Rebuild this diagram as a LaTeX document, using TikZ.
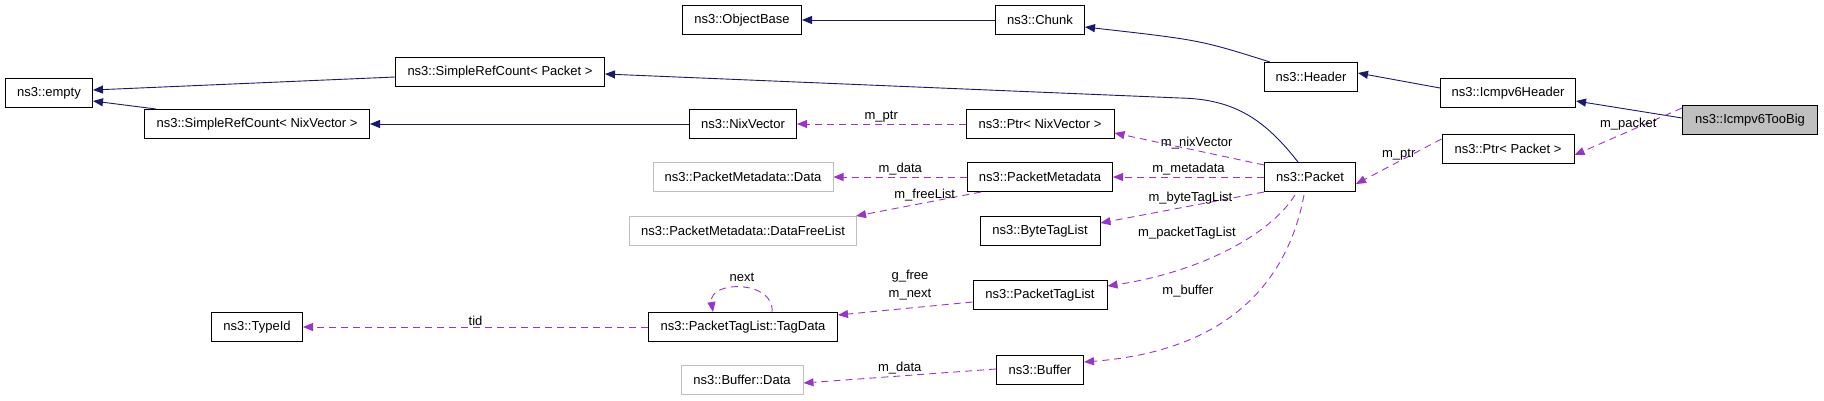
\documentclass[tikz,border=0pt]{standalone}
\usepackage{fontspec}
\setmainfont{Liberation Sans}
\usepackage{tikz}
\usetikzlibrary{arrows.meta,calc}

\definecolor{inhblue}{HTML}{191970}
\definecolor{usepurple}{HTML}{9A32CD}
\definecolor{boxgrey}{HTML}{BFBFBF}

\tikzset{
	cls/.style={draw=black, line width=1pt, minimum height=29pt, inner sep=0pt, font=\fontsize{13pt}{15pt}\selectfont},
	gcls/.style={cls, draw=boxgrey},
	inh/.style={draw=inhblue, line width=0.9pt, -{Triangle[length=10pt,width=8pt]}},
	use/.style={draw=usepurple, line width=0.9pt, dash pattern=on 7pt off 5pt, -{Triangle[length=10pt,width=8pt]}},
	lbl/.style={font=\fontsize{13pt}{15pt}\selectfont, inner sep=1pt}
}

\begin{document}
\begin{tikzpicture}[x=1pt,y=-1pt]
	\useasboundingbox (0,0) rectangle (1824,400);
	% classes
	\node[cls, minimum width=119pt] (objbase) at (742,20) {ns3::ObjectBase};
	\node[cls, minimum width=89pt] (chunk) at (1040,20) {ns3::Chunk};
	\node[cls, minimum width=209pt] (srcpkt) at (500,72) {ns3::SimpleRefCount< Packet >};
	\node[cls, minimum width=93pt] (header) at (1311,77) {ns3::Header};
	\node[cls, minimum width=135pt] (icmphdr) at (1508,93) {ns3::Icmpv6Header};
	\node[cls, minimum width=135pt, fill=boxgrey] (toobig) at (1750,120) {ns3::Icmpv6TooBig};
	\node[cls, minimum width=87pt] (empty) at (49,93) {ns3::empty};
	\node[cls, minimum width=225pt] (srcnix) at (257,124) {ns3::SimpleRefCount< NixVector >};
	\node[cls, minimum width=107pt] (nixvec) at (743,124) {ns3::NixVector};
	\node[cls, minimum width=148pt] (ptrnix) at (1040,124) {ns3::Ptr< NixVector >};
	\node[cls, minimum width=132pt] (ptrpkt) at (1508,149) {ns3::Ptr< Packet >};
	\node[gcls, minimum width=180pt] (pmdata) at (743,177) {ns3::PacketMetadata::Data};
	\node[cls, minimum width=145pt] (pmeta) at (1040,177) {ns3::PacketMetadata};
	\node[cls, minimum width=91pt] (pkt) at (1310,177) {ns3::Packet};
	\node[gcls, minimum width=227pt] (freelist) at (743,231) {ns3::PacketMetadata::DataFreeList};
	\node[cls, minimum width=120pt] (bytetag) at (1040,231) {ns3::ByteTagList};
	\node[cls, minimum width=134pt] (pkttag) at (1040,295) {ns3::PacketTagList};
	\node[cls, minimum width=91pt] (typeid) at (257,327) {ns3::TypeId};
	\node[cls, minimum width=189pt] (tagdata) at (743,327) {ns3::PacketTagList::TagData};
	\node[cls, minimum width=87pt] (buffer) at (1040,370) {ns3::Buffer};
	\node[gcls, minimum width=122pt] (bufdata) at (742,380) {ns3::Buffer::Data};
	% inheritance
	\draw[inh] (chunk) -- (objbase);
	\draw[inh] ([xshift=-41pt]header.north) .. controls (1200,40) .. ([yshift=-7pt]chunk.east);
	\draw[inh] ([yshift=5pt]icmphdr.west) -- ([yshift=4pt]header.east);
	\draw[inh] ([yshift=2pt]toobig.west) -- ([yshift=-8pt]icmphdr.east);
	\draw[inh] ([yshift=-5pt]srcpkt.west) -- ([yshift=3pt]empty.east);
	\draw[inh] ([xshift=-101pt]srcnix.north) -- ([yshift=-8pt]empty.east);
	\draw[inh] (nixvec) -- (srcnix);
	\draw[inh] ([xshift=-12pt]pkt.north) .. controls (1265,120) and (1235,99) .. (1180,98) -- ([yshift=-2pt]srcpkt.east);
	% usage
	\draw[use] (ptrnix) -- node[lbl, above] {m\_ptr} (nixvec);
	\draw[use] ([yshift=12pt]pkt.west) -- node[lbl, above, pos=0.45] {m\_nixVector} ([yshift=-9pt]ptrnix.east);
	\draw[use] (pkt) -- node[lbl, above] {m\_metadata} (pmeta);
	\draw[use] (pmeta) -- node[lbl, above] {m\_data} (pmdata);
	\draw[use] ([xshift=-59pt]pmeta.south) -- node[lbl, above, pos=0.45] {m\_freeList} ([xshift=113pt]freelist.north);
	\draw[use] ([yshift=-15pt]pkt.west) -- node[lbl, above, pos=0.45] {m\_byteTagList} ([yshift=8pt]bytetag.east);
	\draw[use] ([xshift=-15pt,yshift=-3pt]pkt.south) .. controls (1270,235) and (1200,272) .. ([yshift=9pt]pkttag.east);
	\node[lbl] (lptl) at (1187,233) {m\_packetTagList};
	\draw[use] ([xshift=-6pt,yshift=-3pt]pkt.south) .. controls (1290,270) and (1240,350) .. ([yshift=8pt]buffer.east);
	\node[lbl] (lbuf) at (1188,291) {m\_buffer};
	\draw[use] ([yshift=-7pt]pkttag.west) -- ([yshift=12pt]tagdata.east);
	\node[lbl] (lgfree) at (910,276) {g\_free};
	\node[lbl] (lnext) at (910,295) {m\_next};
	\draw[use] ([xshift=29pt]tagdata.north) .. controls (775,280) and (708,280) .. ([xshift=-30pt]tagdata.north);
	\node[lbl] (lself) at (742,277) {next};
	\draw[use] (tagdata) -- node[lbl, above] {tid} (typeid);
	\draw[use] ([yshift=1pt]buffer.west) -- node[lbl, above] {m\_data} ([yshift=-3pt]bufdata.east);
	\draw[use] ([yshift=10pt]ptrpkt.west) -- node[lbl, above] {m\_ptr} ([yshift=-7pt]pkt.east);
	\draw[use] ([yshift=12pt]toobig.west) -- node[lbl, above] {m\_packet} ([yshift=-6pt]ptrpkt.east);
\end{tikzpicture}
\end{document}
